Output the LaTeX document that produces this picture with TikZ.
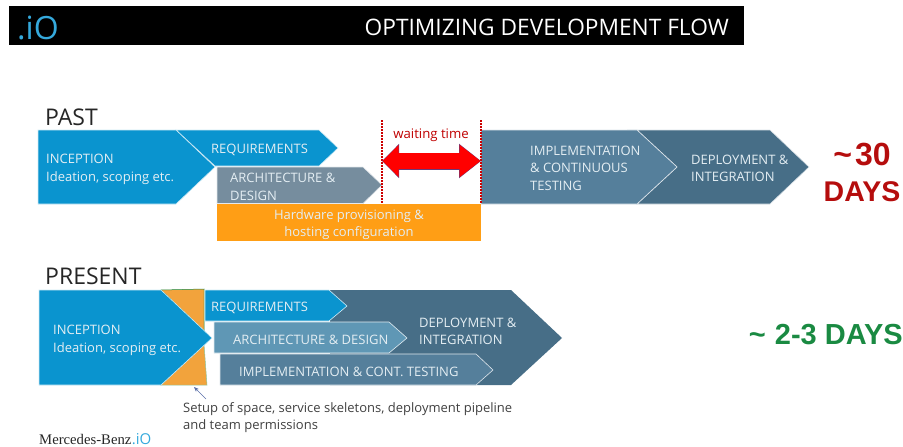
\documentclass[tikz,border=0pt]{standalone}
\usepackage{fontspec}
\setmainfont{Open Sans}
\newfontfamily\daysfont{Liberation Sans}
\newfontfamily\brandfont{Liberation Serif}
\usepackage{tikz}
\usetikzlibrary{positioning,arrows.meta}

\definecolor{incblue}{HTML}{0A94CF}
\definecolor{logoblue}{HTML}{35A9DC}
\definecolor{archgrey}{HTML}{768D9E}
\definecolor{hworange}{HTML}{FF9E15}
\definecolor{setuporange}{HTML}{F2A33C}
\definecolor{implblue}{HTML}{557F9B}
\definecolor{depblue}{HTML}{476E87}
\definecolor{archblue}{HTML}{5F97B5}
\definecolor{daysred}{HTML}{B50D0D}
\definecolor{daysgreen}{HTML}{1A8A42}
\definecolor{labelwhite}{HTML}{E4EEF3}
\definecolor{noteblue}{HTML}{5B6FA8}
\definecolor{arrowedge}{HTML}{6A3A7A}

\tikzset{
	chevron/.style={draw=white!80!#1,line width=0.6pt,fill=#1},
	steplabel/.style={text=labelwhite,font=\fontsize{13}{17.5}\selectfont,inner sep=0pt,anchor=west,align=left,yshift=-1pt},
	phaselabel/.style={text=black!85,font=\fontsize{23}{26}\selectfont,inner sep=0pt,anchor=west},
	dayslabel/.style={font=\daysfont\bfseries\fontsize{28.5}{36}\selectfont,inner sep=0pt,align=center},
	waitline/.style={draw=red!80!black,line width=1.5pt,dash pattern=on 1.5pt off 1.5pt}
}

\begin{document}
\begin{tikzpicture}[x=1pt,y=-1pt]
	\useasboundingbox (0,0) rectangle (903,447);

	% header
	\fill[black] (9,6) rectangle (744,45);
	\node (logo)[anchor=west,inner sep=0pt,text=logoblue,font=\fontsize{32}{34}\selectfont] at (17,28){.iO};
	\node (title)[anchor=east,inner sep=0pt,text=white,font=\fontsize{22.7}{26}\selectfont] at (729,27){OPTIMIZING DEVELOPMENT FLOW};

	% past
	\node (past)[phaselabel] at (45,117){PAST};
	\fill[chevron=depblue] (627,130)--(770,130)--(809,167)--(770,204)--(637,204)--(677,167)--(637,130)--cycle;
	\fill[chevron=implblue] (481,130)--(637,130)--(677,167)--(637,204)--(481,204)--cycle;
	\fill[chevron=incblue] (176,130)--(319,130)--(338,148)--(319,166)--(215,166)--cycle;
	\fill[chevron=incblue] (38,130)--(176,130)--(215,167)--(176,204)--(38,204)--cycle;
	\fill[chevron=archgrey] (217,167)--(363,167)--(382,185)--(363,203.5)--(217,203.5)--cycle;
	\fill[hworange] (217,204) rectangle (481,241);
	\node (inception)[steplabel] at (46,168.5){INCEPTION\\Ideation, scoping etc.};
	\node (requirements)[steplabel] at (211,149){REQUIREMENTS};
	\node (architecture)[steplabel] at (230,186){ARCHITECTURE \&\\DESIGN};
	\node (hardware)[steplabel,anchor=center,align=center] at (349,223.5){Hardware provisioning \&\\hosting configuration};
	\node (implementation)[steplabel] at (530,167){IMPLEMENTATION\\\& CONTINUOUS\\TESTING};
	\node (deployment)[steplabel] at (691,167.5){DEPLOYMENT \&\\INTEGRATION};

	% waiting time
	\coordinate (waitA) at (382,120);
	\coordinate (waitB) at (382,204);
	\coordinate (waitC) at (481,120);
	\coordinate (waitD) at (481,204);
	\coordinate (gapL) at (382,161);
	\coordinate (gapR) at (481,161);
	\draw[waitline] (waitA)--(waitB);
	\draw[waitline] (waitC)--(waitD);
	\draw[{Triangle[length=17pt,width=33pt]}-{Triangle[length=22pt,width=33pt]},line width=17pt,arrowedge] (gapL)--(gapR);
	\draw[{Triangle[length=16pt,width=31pt]}-{Triangle[length=21pt,width=31pt]},line width=15.5pt,red,shorten <=0.5pt,shorten >=0.5pt] (gapL)--(gapR);
	\node (waiting)[inner sep=0pt,text=red!75!black,font=\fontsize{13.2}{14}\selectfont] at (431,135){waiting time};

	\node (days30)[dayslabel,text=daysred,anchor=north] at (862,143){\fontsize{32}{36}\selectfont\char`\~\kern3pt30\\DAYS};

	% present
	\node (present)[phaselabel] at (45,276){PRESENT};
	\fill[depblue] (330,290)--(511,290)--(562,338)--(511,385)--(330,385)--cycle;
	\fill[setuporange,draw=daysgreen,line width=0.5pt] (161,290)--(204,289)--(204,331)--cycle;
	\fill[setuporange,draw=daysgreen!50!white,line width=0.5pt] (161,385)--(204,344)--(207,385)--cycle;
	\fill[chevron=incblue] (39,290)--(161,290)--(212,338)--(161,385)--(39,385)--cycle;
	\fill[chevron=incblue] (205,290)--(329,290)--(347,306)--(329,321)--(205,321)--cycle;
	\fill[chevron=archblue] (214,322)--(389,322)--(407,338)--(389,353)--(214,353)--cycle;
	\fill[chevron=implblue] (220,354)--(476,354)--(493,370)--(476,385)--(220,385)--cycle;
	\node (inceptionNow)[steplabel] at (53,339.5){INCEPTION\\Ideation, scoping etc.};
	\node (requirementsNow)[steplabel] at (211,307){REQUIREMENTS};
	\node (architectureNow)[steplabel] at (233,339){ARCHITECTURE \& DESIGN};
	\node (implementationNow)[steplabel] at (239,371){IMPLEMENTATION \& CONT. TESTING};
	\node (deploymentNow)[steplabel] at (419,330.5){DEPLOYMENT \&\\INTEGRATION};
	\node (days23)[dayslabel,text=daysgreen,anchor=east,font=\daysfont\bfseries\fontsize{29}{32}\selectfont] at (903,335){\char`\~\kern9pt2-3 DAYS};

	% setup note
	\node (setup)[inner sep=0pt,anchor=west,align=left,text=black!75,font=\fontsize{13}{17}\selectfont] at (183,417.5){Setup of space, service skeletons, deployment pipeline\\and team permissions};
	\coordinate (noteTail) at (206,399);
	\coordinate (noteHead) at (194,387);
	\draw[-{Stealth[length=5pt,width=4pt]},noteblue,line width=0.6pt] (noteTail)--(noteHead);

	% footer
	\node (brand)[inner sep=0pt,anchor=west,text=black!85,font=\brandfont\fontsize{14.7}{16}\selectfont] at (39,439){Mercedes-Benz};
	\node (brandio)[inner sep=0pt,right=0pt of brand,text=logoblue,font=\fontsize{15}{16}\selectfont]{.iO};
\end{tikzpicture}
\end{document}
